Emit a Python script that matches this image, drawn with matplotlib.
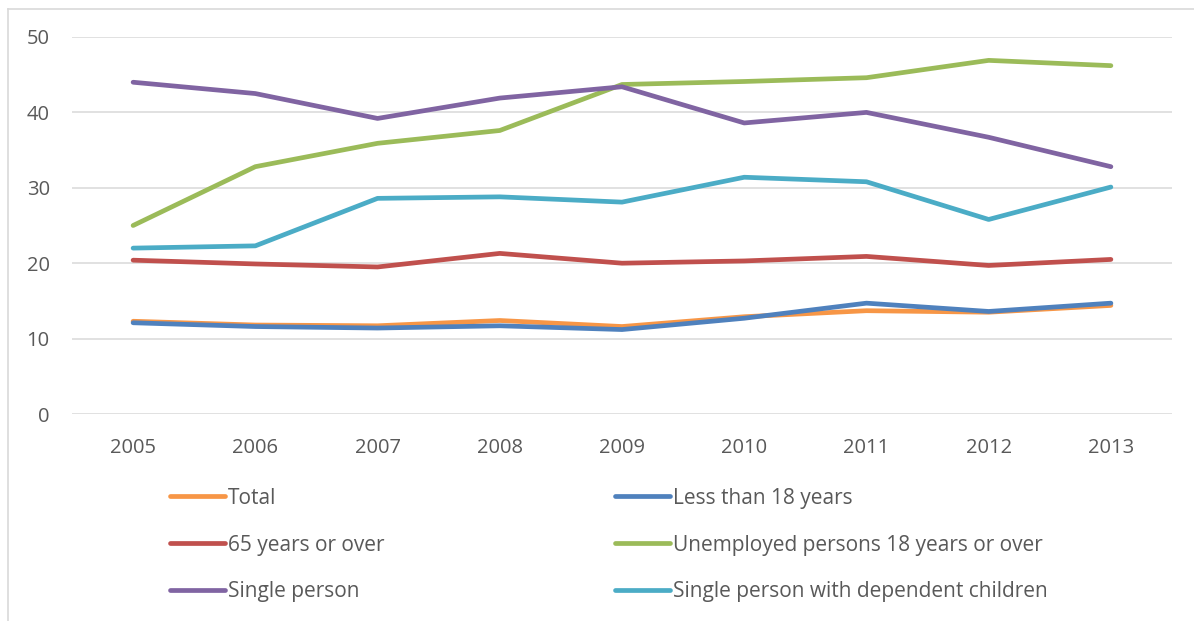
import matplotlib
matplotlib.use("Agg")
import matplotlib.pyplot as plt
from matplotlib.lines import Line2D

# values
years = ["2005", "2006", "2007", "2008", "2009", "2010", "2011", "2012", "2013"]
total = [12.3, 11.8, 11.7, 12.4, 11.6, 12.9, 13.7, 13.5, 14.4]
under_18 = [12.1, 11.6, 11.4, 11.7, 11.2, 12.7, 14.7, 13.6, 14.7]
over_65 = [20.4, 19.9, 19.5, 21.3, 20.0, 20.3, 20.9, 19.7, 20.5]
unemployed = [25.0, 32.8, 35.9, 37.6, 43.7, 44.1, 44.6, 46.9, 46.2]
single = [44.0, 42.5, 39.2, 41.9, 43.4, 38.6, 40.0, 36.7, 32.8]
single_children = [22.0, 22.3, 28.6, 28.8, 28.1, 31.4, 30.8, 25.8, 30.1]

series = [
    ("Total", total, "#F79646"),
    ("Less than 18 years", under_18, "#4F81BD"),
    ("65 years or over", over_65, "#C0504D"),
    ("Unemployed persons 18 years or over", unemployed, "#9BBB59"),
    ("Single person", single, "#8064A2"),
    ("Single person with dependent children", single_children, "#4BACC6"),
]

plt.rcParams['font.family'] = ['Open Sans', 'DejaVu Sans']
text_col = "#595959"
grid_col = "#d9d9d9"

W, H = 1194, 621
fig = plt.figure(figsize=(W / 100, H / 100), dpi=100)
ax = fig.add_axes([72 / W, 1 - 414 / H, (1172 - 72) / W, (414 - 37) / H])

x = list(range(len(years)))
for label, vals, col in series:
    ax.plot(x, vals, color=col, lw=3.4, solid_capstyle='round',
            solid_joinstyle='round', label=label)

ax.set_xlim(-0.5, len(years) - 0.5)
ax.set_ylim(0, 50)
ax.set_yticks(range(0, 51, 10))
ax.set_xticks(x)
ax.set_xticklabels(years)
ax.yaxis.grid(True, color=grid_col, lw=1.1)
ax.set_axisbelow(True)
for s in ax.spines.values():
    s.set_visible(False)
ax.tick_params(axis='both', length=0, labelsize=14.5, colors=text_col)
ax.tick_params(axis='y', pad=16)
ax.tick_params(axis='x', pad=17)

# chart-area border (only left and top visible in the crop)
fig.add_artist(Line2D([7.5 / W, 7.5 / W], [0, 1 - 9 / H], color=grid_col, lw=1.2))
fig.add_artist(Line2D([7.5 / W, 1], [1 - 9 / H, 1 - 9 / H], color=grid_col, lw=1.2))

# legend: row-major order in two columns
order = [0, 2, 4, 1, 3, 5]
handles = [Line2D([], [], color=series[i][2], lw=3.4, solid_capstyle='round') for i in order]
labels = [series[i][0] for i in order]
fig.legend(handles, labels, ncol=2, loc='center left',
           bbox_to_anchor=(170 / W, 1 - 545 / H), frameon=False,
           fontsize=15, labelcolor=text_col, handlelength=2.65,
           handletextpad=0.14, labelspacing=1.24, columnspacing=11.05,
           borderpad=0, borderaxespad=0)

fig.savefig("out.png", dpi=100)
